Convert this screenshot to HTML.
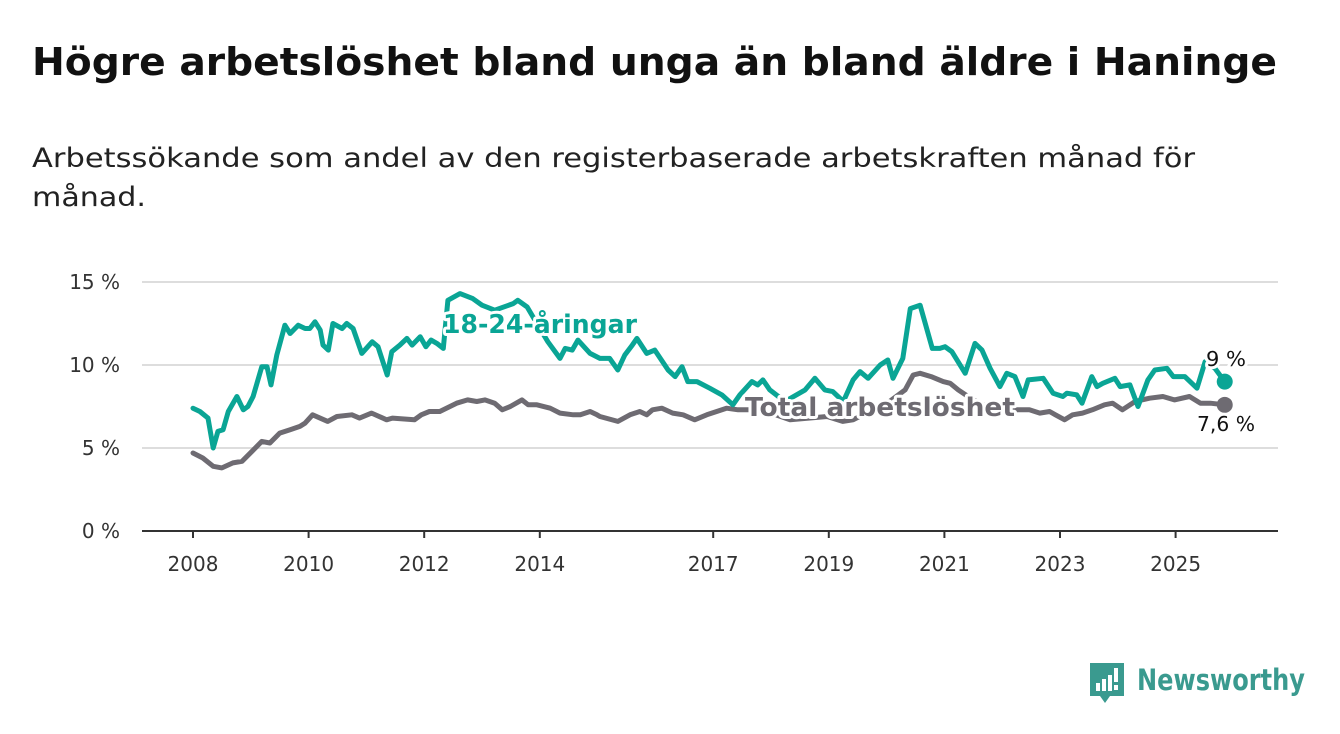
<!DOCTYPE html>
<html><head><meta charset="utf-8">
<style>
body{margin:0;background:#fff;width:1340px;height:734px;overflow:hidden;font-family:"DejaVu Sans","Liberation Sans",sans-serif;}
svg{position:absolute;left:0;top:0;}
</style></head><body>
<svg id="chart" width="1340" height="734">
<text x="32" y="75" font-size="38" font-weight="bold" fill="#111" textLength="1245" lengthAdjust="spacingAndGlyphs">Högre arbetslöshet bland unga än bland äldre i Haninge</text>
<text x="32" y="167" font-size="27" fill="#222" textLength="1163" lengthAdjust="spacingAndGlyphs">Arbetssökande som andel av den registerbaserade arbetskraften månad för</text>
<text x="32" y="206" font-size="27" fill="#222" textLength="114" lengthAdjust="spacingAndGlyphs">månad.</text>
</svg>
<script>
const yTicks=[0,5,10,15];
const xTicks=[2008,2010,2012,2014,2017,2019,2021,2023,2025];
const youthDates=[2008.0,2008.12,2008.26,2008.35,2008.43,2008.52,2008.61,2008.76,2008.87,2008.95,2009.04,2009.19,2009.28,2009.35,2009.45,2009.59,2009.68,2009.82,2009.94,2010.02,2010.11,2010.2,2010.25,2010.34,2010.42,2010.58,2010.66,2010.77,2010.92,2011.1,2011.2,2011.36,2011.44,2011.58,2011.7,2011.79,2011.93,2012.03,2012.12,2012.22,2012.33,2012.41,2012.62,2012.84,2013.0,2013.22,2013.54,2013.62,2013.78,2013.95,2014.14,2014.35,2014.44,2014.56,2014.66,2014.87,2015.04,2015.21,2015.35,2015.47,2015.6,2015.68,2015.85,2015.99,2016.22,2016.34,2016.46,2016.56,2016.72,2016.94,2017.15,2017.34,2017.46,2017.67,2017.77,2017.86,2017.98,2018.24,2018.59,2018.76,2018.93,2019.07,2019.25,2019.42,2019.54,2019.68,2019.89,2020.02,2020.11,2020.28,2020.41,2020.58,2020.79,2020.92,2021.01,2021.13,2021.36,2021.53,2021.65,2021.79,2021.96,2022.08,2022.22,2022.36,2022.45,2022.71,2022.88,2023.05,2023.12,2023.29,2023.38,2023.55,2023.64,2023.74,2023.95,2024.04,2024.21,2024.35,2024.52,2024.64,2024.85,2024.96,2025.16,2025.37,2025.51,2025.68,2025.85];
const youthValues=[7.4,7.2,6.8,5.0,6.0,6.1,7.2,8.1,7.3,7.5,8.1,9.9,9.9,8.8,10.6,12.4,11.9,12.4,12.2,12.2,12.6,12.1,11.2,10.9,12.5,12.2,12.5,12.2,10.7,11.4,11.1,9.4,10.8,11.2,11.6,11.2,11.7,11.1,11.5,11.3,11.0,13.9,14.3,14.0,13.6,13.3,13.7,13.9,13.5,12.5,11.4,10.4,11.0,10.9,11.5,10.7,10.4,10.4,9.7,10.6,11.2,11.6,10.7,10.9,9.7,9.3,9.9,9.0,9.0,8.6,8.2,7.6,8.2,9.0,8.8,9.1,8.5,7.8,8.5,9.2,8.5,8.4,7.8,9.1,9.6,9.2,10.0,10.3,9.2,10.4,13.4,13.6,11.0,11.0,11.1,10.8,9.5,11.3,10.9,9.8,8.7,9.5,9.3,8.1,9.1,9.2,8.3,8.1,8.3,8.2,7.7,9.3,8.7,8.9,9.2,8.7,8.8,7.5,9.1,9.7,9.8,9.3,9.3,8.6,10.2,9.8,9.0];
const totalDates=[2008.0,2008.17,2008.35,2008.5,2008.69,2008.85,2009.19,2009.33,2009.5,2009.68,2009.85,2009.94,2010.07,2010.33,2010.49,2010.75,2010.88,2011.09,2011.35,2011.45,2011.83,2011.95,2012.09,2012.27,2012.56,2012.75,2012.91,2013.05,2013.22,2013.35,2013.49,2013.69,2013.8,2013.95,2014.18,2014.35,2014.58,2014.7,2014.87,2014.99,2015.04,2015.35,2015.56,2015.73,2015.85,2015.95,2016.11,2016.3,2016.48,2016.68,2016.89,2017.06,2017.23,2017.43,2017.7,2018.0,2018.33,2018.97,2019.24,2019.42,2019.7,2020.05,2020.32,2020.46,2020.58,2020.77,2020.98,2021.1,2021.24,2021.5,2021.8,2022.04,2022.23,2022.47,2022.65,2022.82,2022.92,2023.08,2023.22,2023.39,2023.56,2023.77,2023.91,2024.08,2024.3,2024.55,2024.78,2024.98,2025.24,2025.43,2025.6,2025.85];
const totalValues=[4.7,4.4,3.9,3.8,4.1,4.2,5.4,5.3,5.9,6.1,6.3,6.5,7.0,6.6,6.9,7.0,6.8,7.1,6.7,6.8,6.7,7.0,7.2,7.2,7.7,7.9,7.8,7.9,7.7,7.3,7.5,7.9,7.6,7.6,7.4,7.1,7.0,7.0,7.2,7.0,6.9,6.6,7.0,7.2,7.0,7.3,7.4,7.1,7.0,6.7,7.0,7.2,7.4,7.3,7.3,7.1,6.7,6.9,6.6,6.7,7.2,7.8,8.5,9.4,9.5,9.3,9.0,8.9,8.5,7.9,7.4,7.1,7.3,7.3,7.1,7.2,7.0,6.7,7.0,7.1,7.3,7.6,7.7,7.3,7.8,8.0,8.1,7.9,8.1,7.7,7.7,7.6];

const NS='http://www.w3.org/2000/svg';
const svg=document.getElementById('chart');
const xS=v=>193+(v-2008)*57.8;
const yS=v=>531-v*16.6;
function mk(tag,attrs,parent){const e=document.createElementNS(NS,tag);for(const k in attrs)e.setAttribute(k,attrs[k]);(parent||svg).appendChild(e);return e;}
yTicks.forEach(t=>{
  const g=mk('line',{x1:142,x2:1278,y1:yS(t),y2:yS(t),stroke:t===0?'#333':'#ddd','stroke-width':2});
  
  
  const tx=mk('text',{x:120,y:yS(t)+7,'text-anchor':'end','font-size':20,fill:'#333'});
  tx.textContent=t+' %';
  
  
});
xTicks.forEach(t=>{
  const l=mk('line',{x1:xS(t),x2:xS(t),y1:531,y2:538,stroke:'#333','stroke-width':2});
  
  
  const tx=mk('text',{x:xS(t),y:571,'text-anchor':'middle','font-size':20,fill:'#333'});
  tx.textContent=t;
  
  
});
function line(d,v,color,name){
  const p=mk('path',{d:d.map((x,i)=>(i?'L':'M')+xS(x).toFixed(1)+','+yS(v[i]).toFixed(1)).join(''),fill:'none',stroke:color,'stroke-width':5,'stroke-linejoin':'round','stroke-linecap':'round'});
  
  
  const n=d.length-1;
  const c=mk('circle',{cx:xS(d[n]),cy:yS(v[n]),r:8,fill:color});
  
  
}
line(totalDates,totalValues,'#6e6b72','total-line');
line(youthDates,youthValues,'#0aa595','youth-line');
function lbl(x,y,t,color,size,w,len,name){
  const e=mk('text',{x:x,y:y,'font-size':size,'font-weight':w,fill:color,stroke:'#fff','stroke-width':6,'paint-order':'stroke','stroke-linejoin':'round',textLength:len,lengthAdjust:'spacingAndGlyphs'});
  e.textContent=t;
  
  
}
lbl(443,333,'18-24-åringar','#0aa595',26,'bold',194,'youth-series-label');
lbl(745,416,'Total arbetslöshet','#6e6b72',26,'bold',270,'total-series-label');
lbl(1206,366,'9 %','#111',20,'normal',40,'youth-end-value');
lbl(1197,431,'7,6 %','#111',20,'normal',58,'total-end-value');
const lg=mk('g',{});


mk('path',{d:'M1090,663 h34 v33 h-14 l-5,7 l-5,-7 h-10 z',fill:'#3a9a8f'},lg);
mk('rect',{x:1096,y:683,width:4,height:8,fill:'#fff'},lg);
mk('rect',{x:1102,y:679,width:4,height:12,fill:'#fff'},lg);
mk('rect',{x:1108,y:675,width:4,height:16,fill:'#fff'},lg);
mk('rect',{x:1114,y:668,width:4,height:14,fill:'#fff'},lg);
mk('rect',{x:1114,y:685,width:4,height:5,fill:'#fff'},lg);
const lt=mk('text',{x:1137,y:690,'font-size':29,'font-weight':'bold',fill:'#3a9a8f',textLength:168,lengthAdjust:'spacingAndGlyphs'},lg);
lt.textContent='Newsworthy';
</script>
</body></html>
